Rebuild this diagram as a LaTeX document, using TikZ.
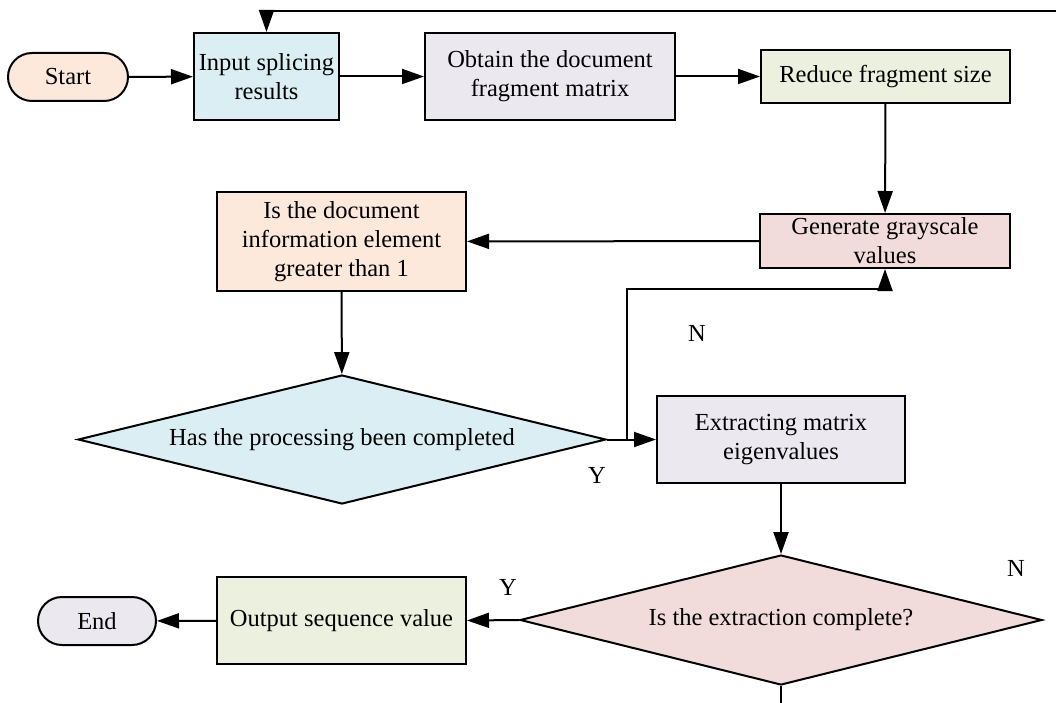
\documentclass[tikz,border=0pt]{standalone}
\usepackage{fontspec}
\setmainfont{Liberation Serif}
\usetikzlibrary{shapes.geometric,arrows.meta}
\definecolor{cpeach}{HTML}{FCE9DC}
\definecolor{cblue}{HTML}{DAEEF3}
\definecolor{clav}{HTML}{EBE8F0}
\definecolor{cgreen}{HTML}{EBF1DE}
\definecolor{cpink}{HTML}{F2DCDB}
\tikzset{
  base/.style={draw=black, line width=2pt, align=center, inner sep=0pt,
    font=\fontsize{24.5}{29}\selectfont, text=black},
  box/.style={base, rectangle},
  term/.style={base, rectangle, rounded corners=24pt, minimum height=48pt},
  dec/.style={base, diamond, shape aspect=4},
  arr/.style={line width=2pt, -{Triangle[length=22pt,width=15pt]}},
  ln/.style={line width=2pt},
  lbl/.style={font=\fontsize{24.5}{29}\selectfont, text=black, inner sep=0pt}
}
\begin{document}
\begin{tikzpicture}[x=1pt,y=-1pt]
\useasboundingbox (0,0) rectangle (1056,703);
\node[term, fill=cpeach, minimum width=120pt] (start) at (68,77) {Start};
\node[box, fill=cblue, minimum width=145pt, minimum height=87pt] (in) at (266.5,76.5) {Input splicing\\results};
\node[box, fill=clav, minimum width=250pt, minimum height=87pt] (obt) at (550,76.5) {Obtain the document\\fragment matrix};
\node[box, fill=cgreen, minimum width=249pt, minimum height=53pt] (red) at (885.5,76.5) {Reduce fragment size};
\node[box, fill=cpink, minimum width=250pt, minimum height=54pt] (gen) at (885,241) {Generate grayscale\\values};
\node[box, fill=cpeach, minimum width=249pt, minimum height=99pt] (isdoc) at (341.5,241.5) {Is the document\\information element\\greater than 1};
\node[dec, fill=cblue, minimum width=528pt, minimum height=129pt] (d1) at (342,439.5) {Has the processing been completed};
\node[box, fill=clav, minimum width=248pt, minimum height=87pt] (ext) at (781,439.5) {Extracting matrix\\eigenvalues};
\node[dec, fill=cpink, minimum width=522pt, minimum height=130pt] (d2) at (781,620) {Is the extraction complete?};
\node[box, fill=cgreen, minimum width=249pt, minimum height=87pt] (out) at (341.5,620.5) {Output sequence value};
\node[term, fill=clav, minimum width=118pt] (end) at (97,621) {End};

\node[lbl] (n1) at (697,333) {N};
\node[lbl] (y1) at (597,475) {Y};
\node[lbl] (y2) at (508,587) {Y};
\node[lbl] (n2) at (1016,568) {N};

\coordinate (br) at (627,439.5);
\coordinate (nb) at (627,289);
\coordinate (tr) at (1056,11);
\coordinate (bot) at (781,703);

\draw[arr] (start) -- (in);
\draw[arr] (in) -- (obt);
\draw[arr] (obt) -- (red);
\draw[arr] (red) -- (gen);
\draw[arr] (gen) -- (isdoc);
\draw[arr] (isdoc) -- (d1);
\draw[arr] (d1.east) -- (ext.west);
\draw[arr] (br) -- (nb) -| (gen.south);
\draw[arr] (ext) -- (d2);
\draw[arr] (d2.west) -- (out.east);
\draw[arr] (out) -- (end);
\draw[ln] (d2.south) -- (bot);
\draw[arr] (tr) -| (in.north);
\end{tikzpicture}
\end{document}
